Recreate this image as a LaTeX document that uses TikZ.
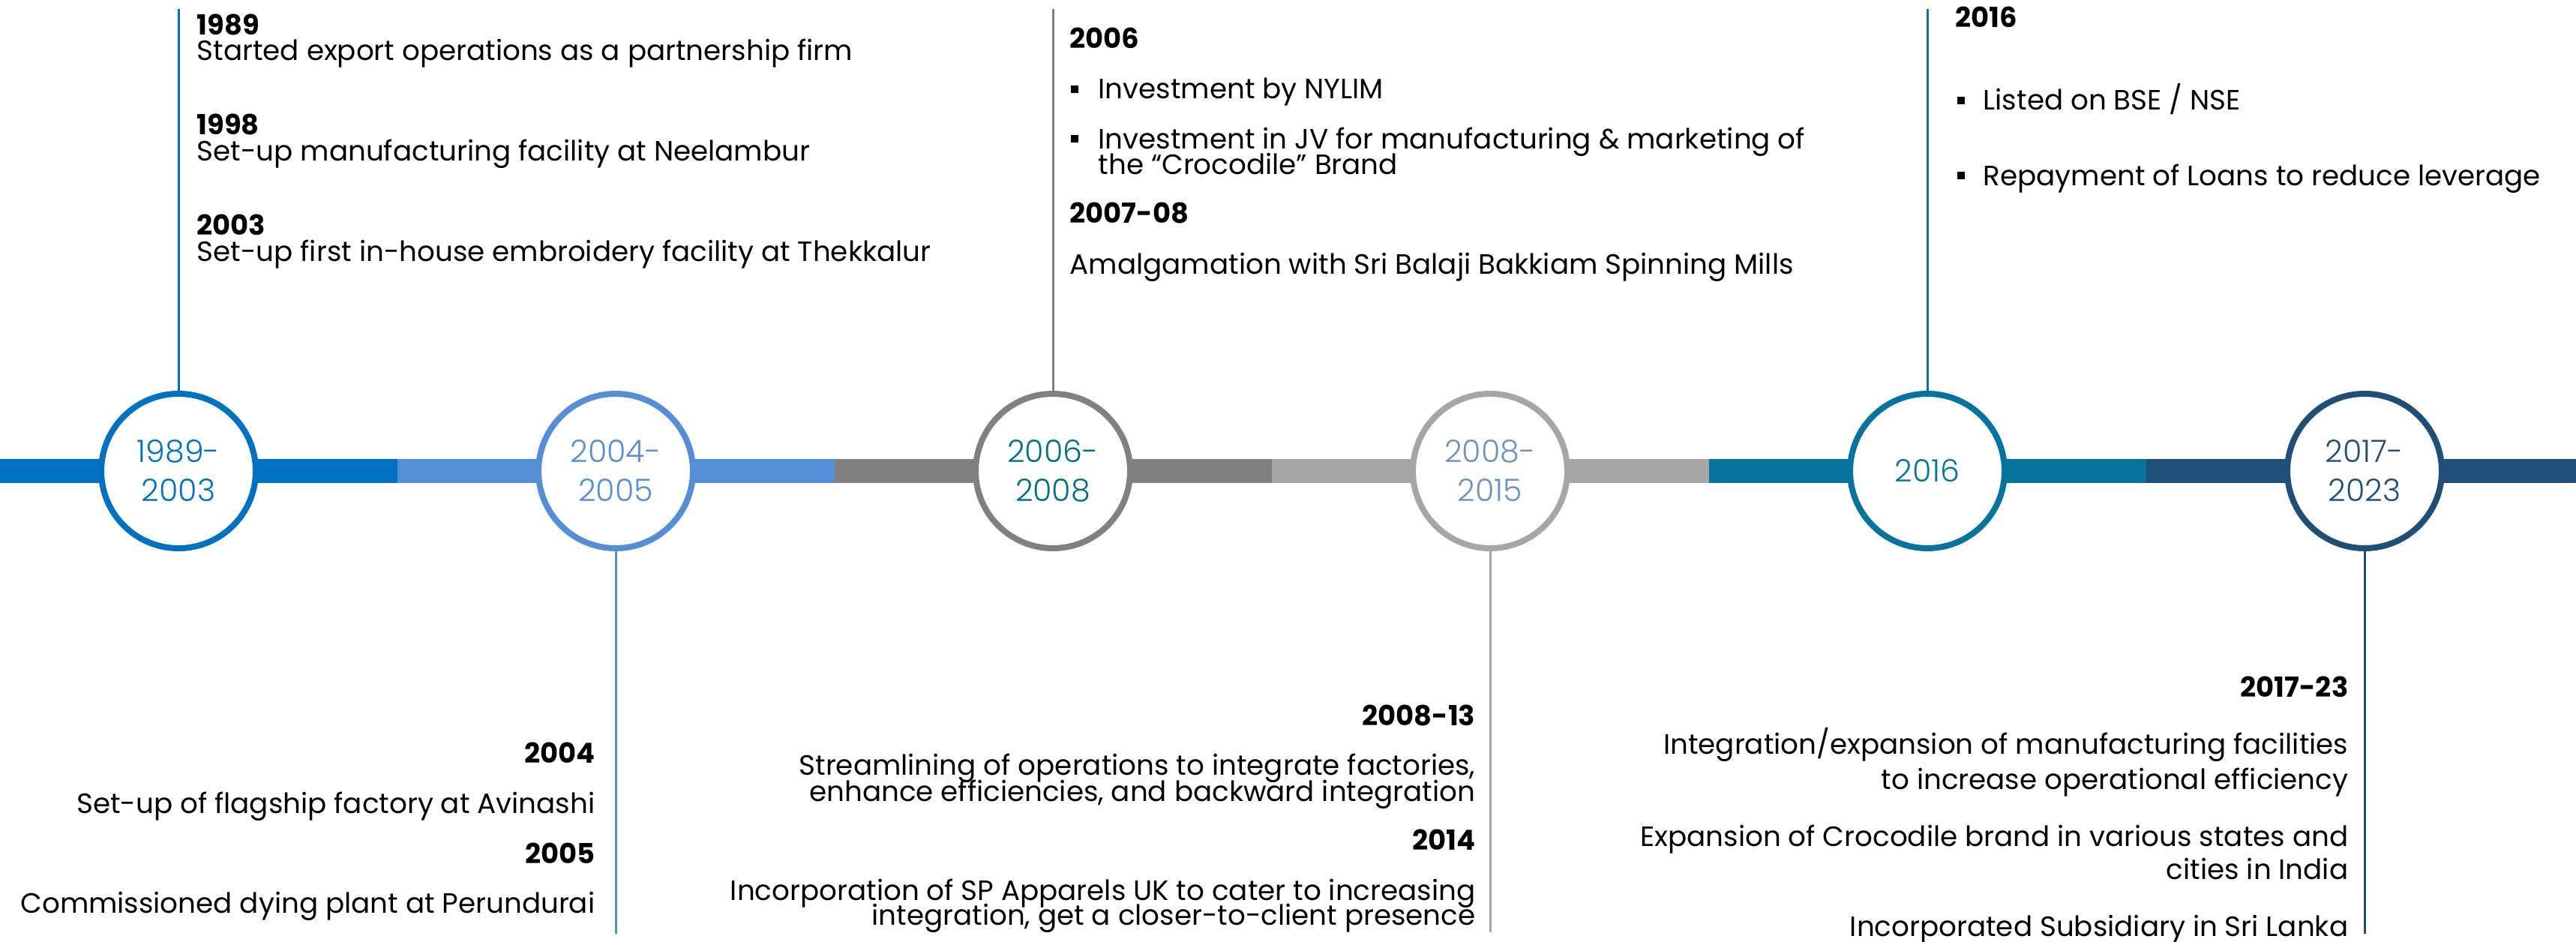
\documentclass[tikz,border=0pt]{standalone}
\usepackage{fontspec}
\setmainfont{Poppins}
\newfontfamily\yearfont{Poppins Light}
\definecolor{tlblue}{HTML}{0070C0}
\definecolor{tlsky}{HTML}{558ED5}
\definecolor{tlgrey}{HTML}{808080}
\definecolor{tlsilver}{HTML}{A6A6A6}
\definecolor{tlteal}{HTML}{05739E}
\definecolor{tlnavy}{HTML}{1F4E79}
\definecolor{tlcyan}{HTML}{00707F}
\definecolor{tlslate}{HTML}{6E93BA}
\tikzset{
  ring/.style={circle,draw=#1,fill=white,line width=0.08cm,minimum size=2.06cm,inner sep=0pt,
    align=center,font=\yearfont\fontsize{11.7}{14.8}\selectfont},
  stem/.style={draw=#1,line width=0.03cm},
  yr/.style={inner sep=0pt,font=\bfseries\fontsize{10.5}{12}\selectfont},
  txt/.style={inner sep=0pt,font=\fontsize{10.6}{12}\selectfont},
  sqbullet/.style={fill=black,inner sep=0pt,minimum size=0.1cm}
}
\begin{document}
\begin{tikzpicture}[x=1cm,y=1cm]
    \useasboundingbox (0,0) rectangle (34.35,-12.56);
    \fill[tlblue](0,-6.12) rectangle (5.295,-6.44);
    \fill[tlsky](5.295,-6.12) rectangle (11.125,-6.44);
    \fill[tlgrey](11.125,-6.12) rectangle (16.955,-6.44);
    \fill[tlsilver](16.955,-6.12) rectangle (22.785,-6.44);
    \fill[tlteal](22.785,-6.12) rectangle (28.615,-6.44);
    \fill[tlnavy](28.615,-6.12) rectangle (34.35,-6.44);
    \node[ring=tlblue,text=tlblue] (c1) at (2.38,-6.28) {1989-\\2003};
    \node[ring=tlsky,text=tlsky] (c2) at (8.21,-6.28) {2004-\\2005};
    \node[ring=tlgrey,text=tlcyan] (c3) at (14.04,-6.28) {2006-\\2008};
    \node[ring=tlsilver,text=tlslate] (c4) at (19.87,-6.28) {2008-\\2015};
    \node[ring=tlteal,text=tlteal] (c5) at (25.70,-6.28) {2016};
    \node[ring=tlnavy,text=tlnavy] (c6) at (31.53,-6.28) {2017-\\2023};
    \coordinate (t1) at (2.38,-0.12);
    \coordinate (t2) at (8.21,-12.45);
    \coordinate (t3) at (14.04,-0.12);
    \coordinate (t4) at (19.87,-12.43);
    \coordinate (t5) at (25.70,-0.12);
    \coordinate (t6) at (31.53,-12.45);
    \draw[stem=tlblue](c1.north)--(t1);
    \draw[stem=tlsky](c2.south)--(t2);
    \draw[stem=tlgrey](c3.north)--(t3);
    \draw[stem=tlsilver](c4.south)--(t4);
    \draw[stem=tlteal](c5.north)--(t5);
    \draw[stem=tlnavy](c6.south)--(t6);
    % 1989-2003
    \node[yr,anchor=base west] (y1989) at (2.62,-0.47) {1989};
    \node[txt,anchor=base west] (e1989) at (2.62,-0.81) {Started export operations as a partnership firm};
    \node[yr,anchor=base west] (y1998) at (2.62,-1.80) {1998};
    \node[txt,anchor=base west] (e1998) at (2.62,-2.15) {Set-up manufacturing facility at Neelambur};
    \node[yr,anchor=base west] (y2003) at (2.62,-3.13) {2003};
    \node[txt,anchor=base west] (e2003) at (2.62,-3.48) {Set-up first in-house embroidery facility at Thekkalur};
    % 2004-2005
    \node[yr,anchor=base east] (y2004) at (7.94,-10.17) {2004};
    \node[txt,anchor=base east] (e2004) at (7.94,-10.84) {Set-up of flagship factory at Avinashi};
    \node[yr,anchor=base east] (y2005) at (7.94,-11.51) {2005};
    \node[txt,anchor=base east] (e2005) at (7.94,-12.17) {Commissioned dying plant at Perundurai};
    % 2006-2008
    \node[yr,anchor=base west] (y2006) at (14.26,-0.65) {2006};
    \node[sqbullet] (b1) at (14.33,-1.19) {};
    \node[txt,anchor=base west] (e2006a) at (14.64,-1.32) {Investment by NYLIM};
    \node[sqbullet] (b2) at (14.33,-1.85) {};
    \node[txt,anchor=base west] (e2006b) at (14.64,-1.98) {Investment in JV for manufacturing \& marketing of};
    \node[txt,anchor=base west] (e2006c) at (14.64,-2.32) {the “Crocodile” Brand};
    \node[yr,anchor=base west] (y2007) at (14.26,-2.98) {2007-08};
    \node[txt,anchor=base west] (e2007) at (14.26,-3.65) {Amalgamation with Sri Balaji Bakkiam Spinning Mills};
    % 2008-2015
    \node[yr,anchor=base east] (y2008) at (19.68,-9.67) {2008-13};
    \node[txt,anchor=base east] (e2008a) at (19.68,-10.33) {Streamlining of operations to integrate factories,};
    \node[txt,anchor=base east] (e2008b) at (19.68,-10.68) {enhance efficiencies, and backward integration};
    \node[yr,anchor=base east] (y2014) at (19.68,-11.33) {2014};
    \node[txt,anchor=base east] (e2014a) at (19.68,-12.00) {Incorporation of SP Apparels UK to cater to increasing};
    \node[txt,anchor=base east] (e2014b) at (19.68,-12.33) {integration, get a closer-to-client presence};
    % 2016
    \node[yr,anchor=base west] (y2016) at (26.07,-0.37) {2016};
    \node[sqbullet] (b3) at (26.15,-1.34) {};
    \node[txt,anchor=base west] (e2016a) at (26.44,-1.47) {Listed on BSE / NSE};
    \node[sqbullet] (b4) at (26.15,-2.34) {};
    \node[txt,anchor=base west] (e2016b) at (26.44,-2.47) {Repayment of Loans to reduce leverage};
    % 2017-2023
    \node[yr,anchor=base east] (y2017) at (31.32,-9.29) {2017-23};
    \node[txt,anchor=base east] (e2017a) at (31.32,-10.05) {Integration/expansion of manufacturing facilities};
    \node[txt,anchor=base east] (e2017b) at (31.32,-10.52) {to increase operational efficiency};
    \node[txt,anchor=base east] (e2017c) at (31.32,-11.28) {Expansion of Crocodile brand in various states and};
    \node[txt,anchor=base east] (e2017d) at (31.32,-11.72) {cities in India};
    \node[txt,anchor=base east] (e2017e) at (31.32,-12.48) {Incorporated Subsidiary in Sri Lanka};
\end{tikzpicture}
\end{document}
